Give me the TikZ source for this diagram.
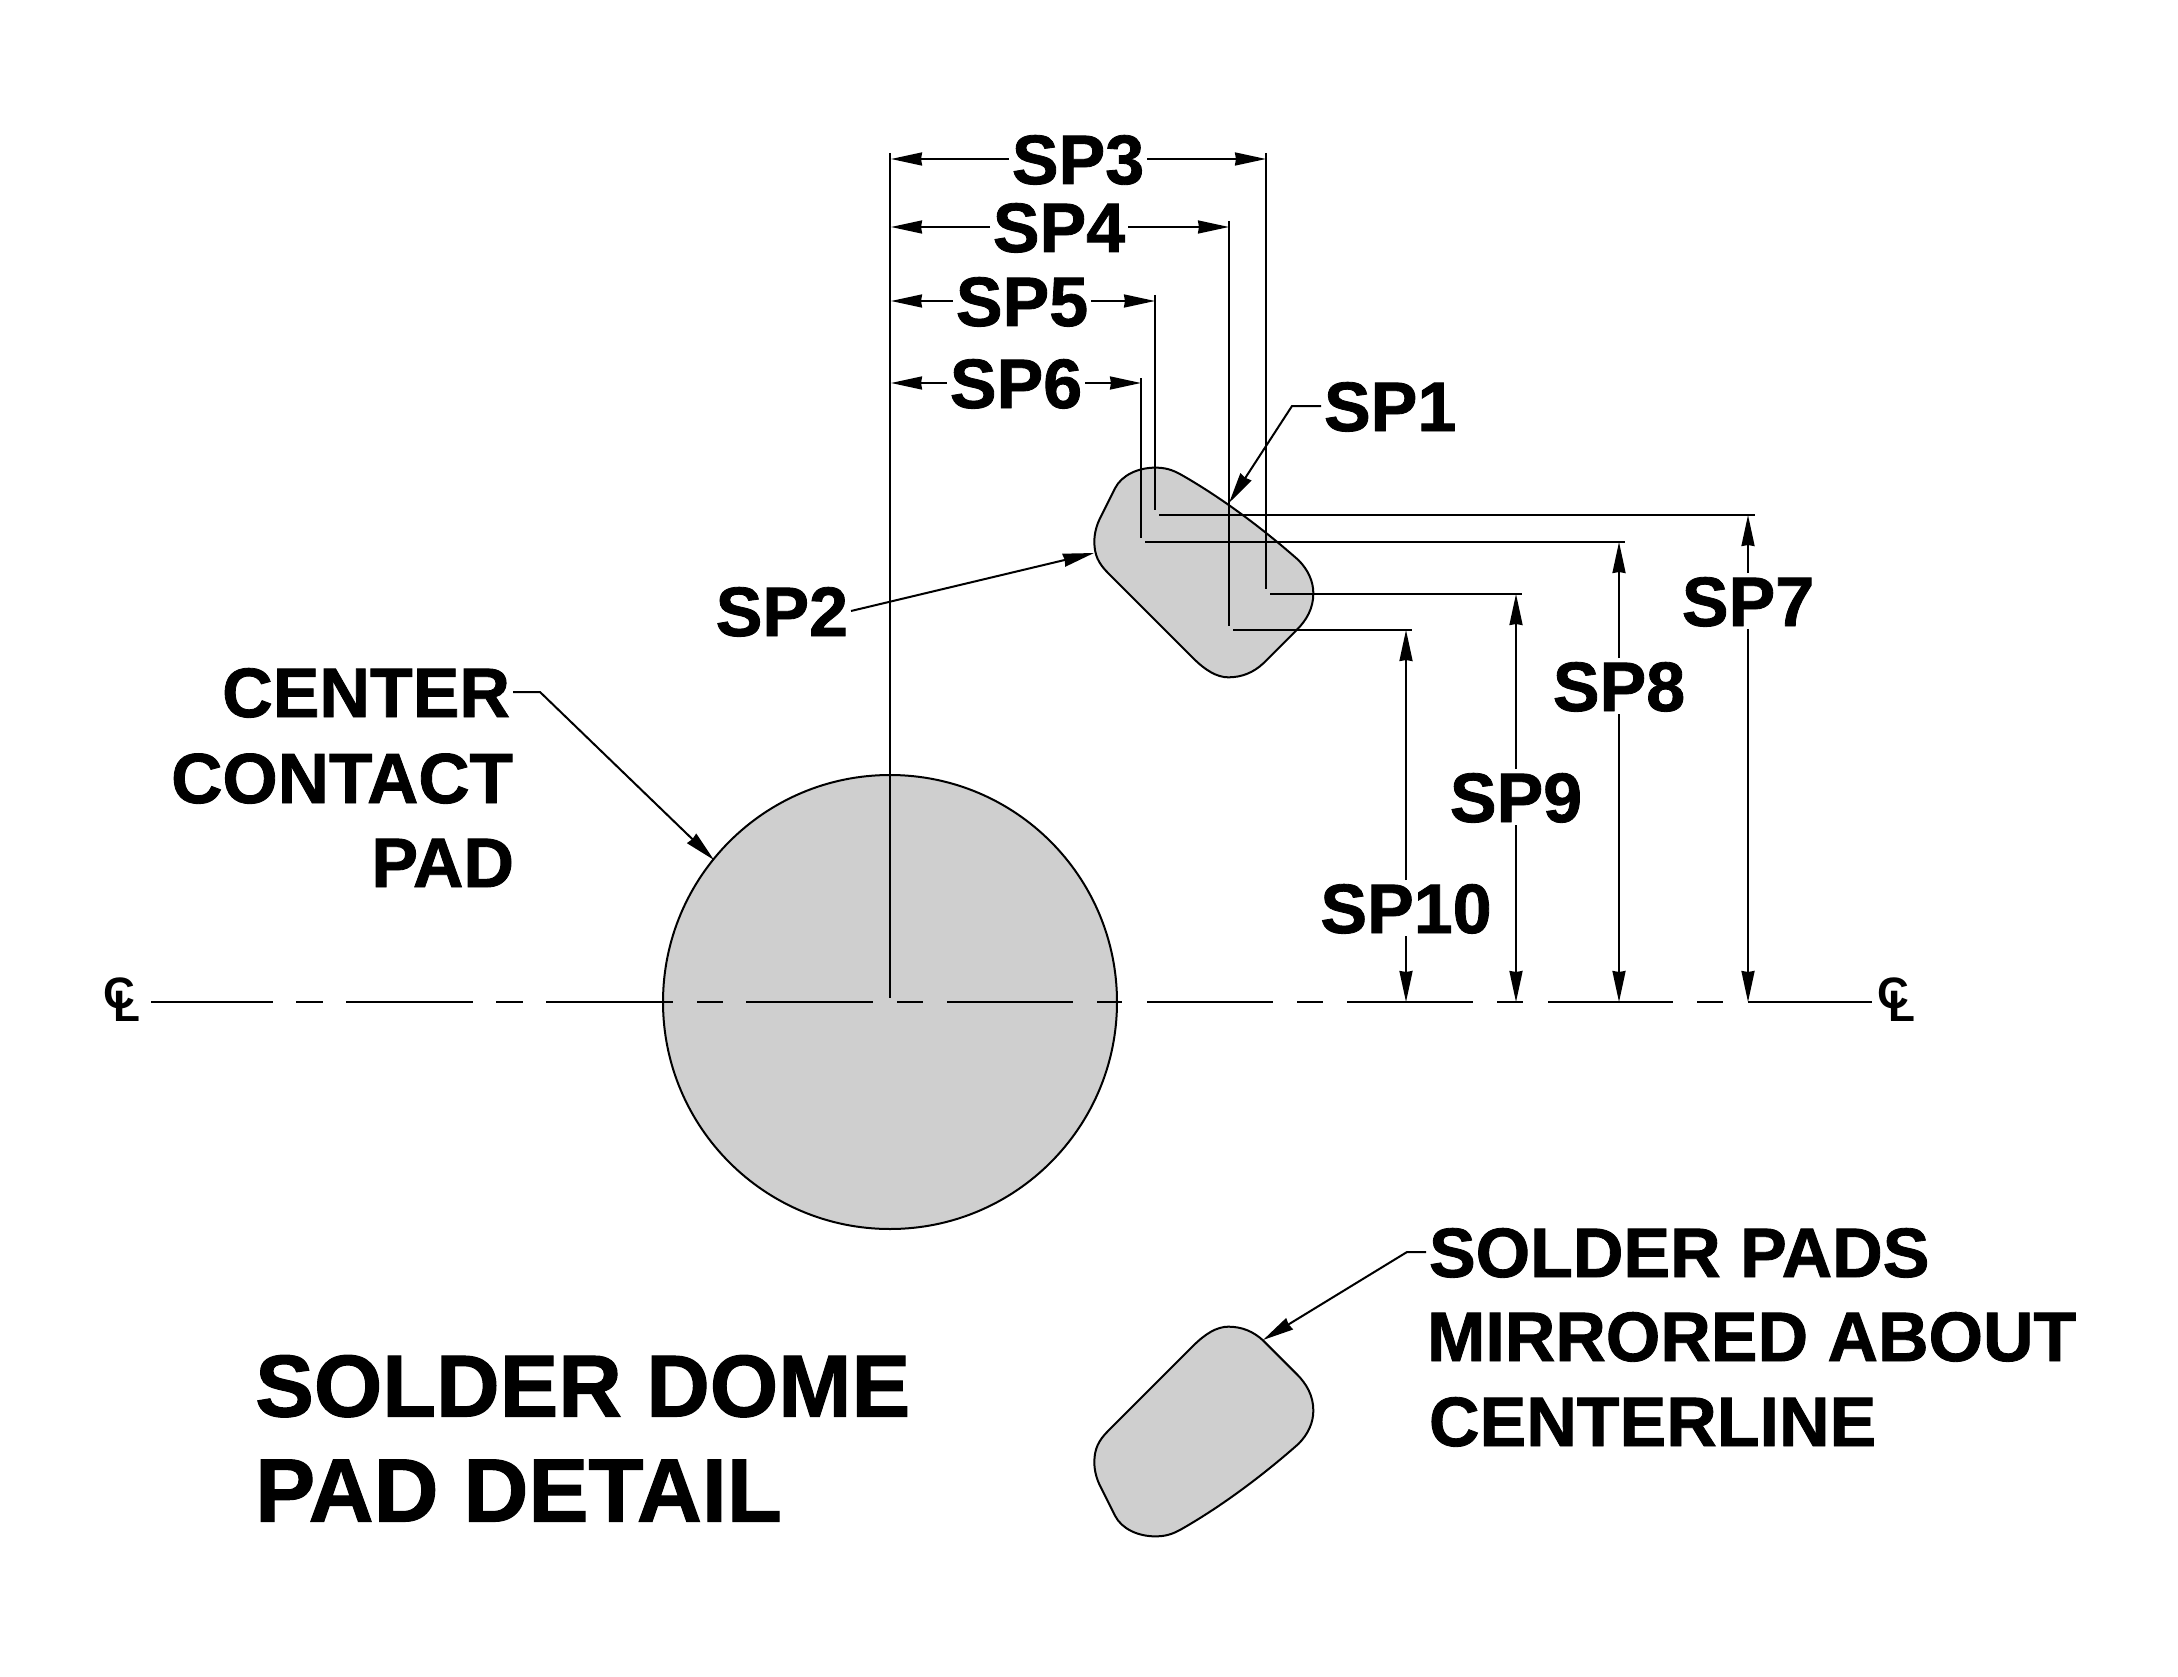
\documentclass[tikz,border=0pt]{standalone}
\usepackage{fontspec}
\setmainfont{Liberation Sans}
\newfontfamily\heavyfont[FakeBold=1.2]{Liberation Sans Bold}
\usetikzlibrary{arrows.meta}
\definecolor{padgray}{RGB}{207,207,207}
\tikzset{
  ln/.style={line width=2pt,black},
  dim/.style={ln,-{Stealth[length=31pt,width=13pt,inset=1pt]}},
  lab/.style={font=\fontsize{70}{70}\heavyfont,inner sep=0pt,outer sep=3pt,text height=50pt,text depth=0pt},
  title/.style={font=\fontsize{88}{88}\heavyfont,inner sep=0pt,text height=63pt,text depth=0pt},
  padshape/.style={ln,fill=padgray},
  clsym/.style={anchor=base west,inner sep=0pt,font=\fontsize{44}{44}\selectfont\bfseries}
}
\newcommand{\padoutline}{(150,295) -- (195,205)
  .. controls (215,165) and (265,143) .. (315,143)
  .. controls (345,143) and (365,148) .. (395,165)
  .. controls (500,225) and (620,310) .. (745,420)
  .. controls (775,450) and (790,485) .. (790,520)
  .. controls (790,565) and (770,600) .. (740,630)
  -- (640,730)
  .. controls (610,758) and (575,772) .. (535,772)
  .. controls (500,772) and (465,750) .. (430,715)
  -- (175,460)
  .. controls (145,430) and (133,405) .. (133,365)
  .. controls (133,340) and (140,315) .. (150,295) -- cycle}
\newcommand{\clmark}{C\kern-21pt\raisebox{-13pt}{L}}
\begin{document}
\begin{tikzpicture}[x=1pt,y=-1pt]
\useasboundingbox (0,0) rectangle (2178,1677);
% shapes
\draw[ln,fill=padgray] (890,1002) circle[radius=227];
\begin{scope}[shift={(1050,420)},scale=0.33333]
  \draw[padshape] \padoutline;
\end{scope}
\begin{scope}[shift={(0,2004)},yscale=-1]
\begin{scope}[shift={(1050,420)},scale=0.33333]
  \draw[padshape] \padoutline;
\end{scope}
\end{scope}
% centerline
\foreach \a/\b in {151/273,296/323,346/473,496/523,546/673,697/723,746/873,897/923,947/1073,1097/1122,1147/1273,1297/1323,1347/1473,1497/1523,1548/1673,1697/1723,1748/1872}
  \draw[ln] (\a,1002) -- (\b,1002);
% labels
\node[clsym] (cl1) at (103,1008) {\clmark};
\node[clsym] (cl2) at (1877,1008) {\clmark};
\node[lab] (sp3) at (1078,159) {SP3};
\node[lab] (sp4) at (1059,227) {SP4};
\node[lab] (sp5) at (1022,301) {SP5};
\node[lab] (sp6) at (1016,383) {SP6};
\node[lab,anchor=west] (sp1) at (1321,406) {SP1};
\node[lab,anchor=east] (sp2) at (851,611) {SP2};
\node[lab] (sp7) at (1748,601) {SP7};
\node[lab] (sp8) at (1619,686) {SP8};
\node[lab] (sp9) at (1516,797) {SP9};
\node[lab] (sp10) at (1406,908) {SP10};
\node[lab,anchor=east] (t1) at (513,692) {CENTER};
\node[lab,anchor=east,font=\fontsize{71}{71}\heavyfont] (t2) at (516,778) {CONTACT};
\node[lab,anchor=east] (t3) at (517,862) {PAD};
\node[lab,anchor=west] (s1) at (1426,1252) {SOLDER PADS};
\node[lab,anchor=west] (s2) at (1424,1336) {MIRRORED ABOUT};
\node[lab,anchor=west] (s3) at (1426,1421) {CENTERLINE};
\node[title,anchor=west] (d1) at (255,1385) {SOLDER DOME};
\node[title,anchor=west,font=\fontsize{90}{90}\heavyfont] (d2) at (255,1490) {PAD DETAIL};
% extension lines
\coordinate (o0) at (890,153);
\coordinate (o1) at (890,998);
\draw[ln] (o0) -- (o1);
\coordinate (e3a) at (1266,153); \coordinate (e3b) at (1266,589);
\coordinate (e4a) at (1229,221); \coordinate (e4b) at (1229,626);
\coordinate (e5a) at (1155,295); \coordinate (e5b) at (1155,510);
\coordinate (e6a) at (1141,378); \coordinate (e6b) at (1141,538);
\draw[ln] (e3a)--(e3b); \draw[ln] (e4a)--(e4b); \draw[ln] (e5a)--(e5b); \draw[ln] (e6a)--(e6b);
\coordinate (h7a) at (1159,515); \coordinate (h7b) at (1755,515);
\coordinate (h8a) at (1145,542); \coordinate (h8b) at (1625,542);
\coordinate (h9a) at (1270,594); \coordinate (h9b) at (1522,594);
\coordinate (h10a) at (1233,630); \coordinate (h10b) at (1412,630);
\draw[ln] (h7a)--(h7b); \draw[ln] (h8a)--(h8b); \draw[ln] (h9a)--(h9b); \draw[ln] (h10a)--(h10b);
% horizontal dimensions
\coordinate (l3) at (891,159); \coordinate (r3) at (1266,159);
\coordinate (l4) at (891,227); \coordinate (r4) at (1229,227);
\coordinate (l5) at (891,301); \coordinate (r5) at (1155,301);
\coordinate (l6) at (891,383); \coordinate (r6) at (1141,383);
\draw[dim] (sp3.west) -- (l3); \draw[dim] (sp3.east) -- (r3);
\draw[dim] (sp4.west) -- (l4); \draw[dim] (sp4.east) -- (r4);
\draw[dim] (sp5.west) -- (l5); \draw[dim] (sp5.east) -- (r5);
\draw[dim] (sp6.west) -- (l6); \draw[dim] (sp6.east) -- (r6);
% vertical dimensions
\coordinate (u7) at (1748,515); \coordinate (b7) at (1748,1002);
\coordinate (u8) at (1619,542); \coordinate (b8) at (1619,1002);
\coordinate (u9) at (1516,594); \coordinate (b9) at (1516,1002);
\coordinate (u10) at (1406,630); \coordinate (b10) at (1406,1002);
\draw[dim] (sp7.north) -- (u7); \draw[dim] (sp7.south) -- (b7);
\draw[dim] (sp8.north) -- (u8); \draw[dim] (sp8.south) -- (b8);
\draw[dim] (sp9.north) -- (u9); \draw[dim] (sp9.south) -- (b9);
\draw[dim] (sp10.north) -- (u10); \draw[dim] (sp10.south) -- (b10);
% leaders
\coordinate (tip1) at (1229,503);
\coordinate (k1) at (1292,406);
\draw[dim] (sp1.west) -- (k1) -- (tip1);
\coordinate (tip2) at (1094,553);
\draw[dim] (sp2.east) -- (tip2);
\coordinate (k3) at (540,692);
\coordinate (tip3) at (714,860);
\draw[dim] (t1.east) -- (k3) -- (tip3);
\coordinate (k4) at (1407,1252);
\coordinate (tip4) at (1263,1340);
\draw[dim] (s1.west) -- (k4) -- (tip4);
\end{tikzpicture}
\end{document}
